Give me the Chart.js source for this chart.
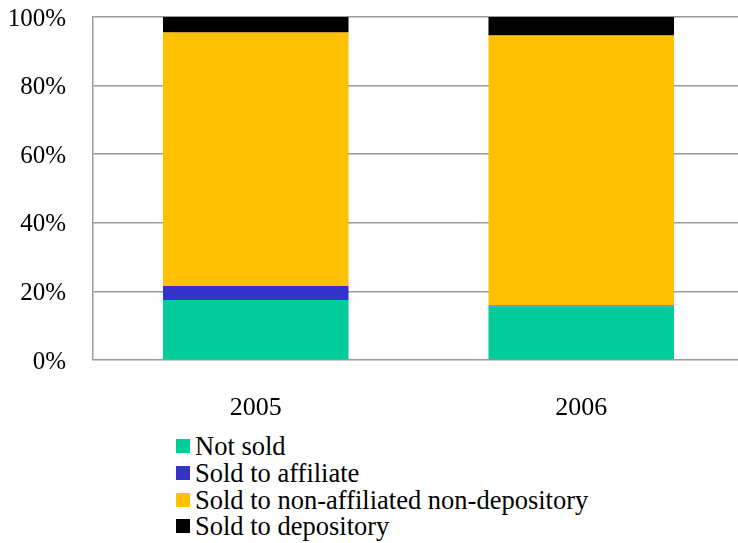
<!DOCTYPE html>
<html>
<head>
<meta charset="utf-8">
<script src="https://cdn.jsdelivr.net/npm/chart.js@4/dist/chart.umd.min.js"></script>
<style>
  html, body { margin: 0; padding: 0; background: #fff; overflow: hidden; }
  #wrap { position: relative; width: 738px; height: 543px; overflow: hidden; }
  #chart { position: absolute; left: 0; top: 0; }
  #legend { position: absolute; left: 176px; top: 433px; font-family: "Times New Roman", "Liberation Serif", Tinos, "DejaVu Serif", serif; font-size: 26.5px; color: #000; }
  .row { position: relative; height: 26.8px; line-height: 26.8px; white-space: nowrap; }
  .sw { position: absolute; left: 0; top: 6px; width: 14px; height: 14px; }
  .lbl { position: absolute; left: 19px; top: 0; }
</style>
</head>
<body>
<div id="wrap">
  <canvas id="chart" width="744" height="430"></canvas>
  <div id="legend"></div>
</div>
<script>
// Share of loans by purchaser type, per year (percent of total)
const categories = ['2005', '2006'];
const notSold = [17.5, 15.6];
const soldToAffiliate = [4.1, 0.3];
const soldToNonAffiliated = [73.9, 78.7];
const soldToDepository = [4.5, 5.4];
const yTicks = [0, 20, 40, 60, 80, 100];

const seriesNames = ['Not sold', 'Sold to affiliate', 'Sold to non-affiliated non-depository', 'Sold to depository'];
const seriesColors = ['#02CC99', '#3333CC', '#FFC000', '#000000'];
const seriesValues = [notSold, soldToAffiliate, soldToNonAffiliated, soldToDepository];

const serif = '"Times New Roman", "Liberation Serif", Tinos, "DejaVu Serif", serif';
const gridColor = '#999999';

const datasets = seriesNames.map((name, i) => ({
  label: name,
  data: seriesValues[i],
  backgroundColor: seriesColors[i],
  borderWidth: 0,
  categoryPercentage: 1,
  barPercentage: 0.57
}));

new Chart(document.getElementById('chart'), {
  type: 'bar',
  data: { labels: categories, datasets },
  options: {
    responsive: false,
    animation: false,
    devicePixelRatio: 1,
    layout: { padding: { top: 17, right: 0, bottom: 0, left: 0 } },
    plugins: { legend: { display: false }, tooltip: { enabled: false } },
    scales: {
      x: {
        stacked: true,
        grid: { display: false },
        border: { display: false },
        ticks: { color: '#000', font: { family: serif, size: 26 }, padding: 25 },
        afterFit: (s) => { s.height = 70; s.paddingLeft = 0; s.paddingRight = 0; }
      },
      y: {
        stacked: true,
        min: 0,
        max: 100,
        afterBuildTicks: (s) => { s.ticks = yTicks.map(v => ({ value: v })); },
        grid: { color: gridColor, lineWidth: 1.5, drawTicks: false },
        border: { display: true, color: gridColor, width: 1.5 },
        ticks: {
          color: '#000',
          font: { family: serif, size: 25 },
          padding: 27,
          labelOffset: 2,
          callback: (v) => v + '%'
        },
        // fixed axis width; tick padding should not push the plot area down
        afterFit: (s) => { s.width = 93; s.paddingTop = 0; s.paddingBottom = 0; }
      }
    }
  }
});

// Legend: one entry per line, square swatch followed by the series name
const legend = document.getElementById('legend');
seriesNames.forEach((name, i) => {
  const row = document.createElement('div');
  row.className = 'row';
  const sw = document.createElement('span');
  sw.className = 'sw';
  sw.style.background = seriesColors[i];
  const lbl = document.createElement('span');
  lbl.className = 'lbl';
  lbl.textContent = name;
  row.appendChild(sw);
  row.appendChild(lbl);
  legend.appendChild(row);
});
</script>
</body>
</html>
